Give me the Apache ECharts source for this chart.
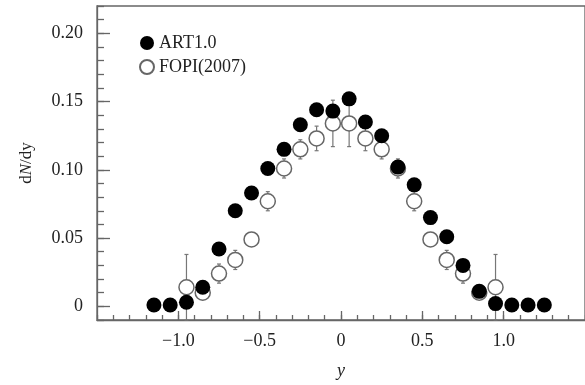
<!DOCTYPE html>
<html>
<head>
<meta charset="utf-8">
<script src="https://cdn.jsdelivr.net/npm/echarts@6/dist/echarts.min.js"></script>
<style>
  html, body { margin: 0; padding: 0; background: #fff; }
  #chart { width: 585px; height: 385px; }
</style>
</head>
<body>
<div id="chart"></div>
<script>
// ART1.0 transport model
var artX = [-1.15, -1.05, -0.95, -0.85, -0.75, -0.65, -0.55, -0.45, -0.35, -0.25, -0.15, -0.05,
  0.05, 0.15, 0.25, 0.35, 0.45, 0.55, 0.65, 0.75, 0.85, 0.95, 1.05, 1.15, 1.25]
var artY = [0.001, 0.001, 0.003, 0.014, 0.042, 0.070, 0.083, 0.101, 0.115, 0.133, 0.144, 0.143,
  0.152, 0.135, 0.125, 0.102, 0.089, 0.065, 0.051, 0.030, 0.011, 0.002, 0.001, 0.001, 0.001]

// FOPI(2007) data with errors
var fopiX = [-0.95, -0.85, -0.75, -0.65, -0.55, -0.45, -0.35, -0.25, -0.15, -0.05,
  0.05, 0.15, 0.25, 0.35, 0.45, 0.55, 0.65, 0.75, 0.85, 0.95]
var fopiY = [0.014, 0.010, 0.024, 0.034, 0.049, 0.077, 0.101, 0.115, 0.123, 0.134,
  0.134, 0.123, 0.115, 0.101, 0.077, 0.049, 0.034, 0.024, 0.010, 0.014]
var fopiErr = [0.024, 0.003, 0.007, 0.007, 0.003, 0.007, 0.007, 0.007, 0.009, 0.017,
  0.017, 0.009, 0.007, 0.007, 0.007, 0.003, 0.007, 0.007, 0.003, 0.024]

var xTicks = [-1.0, -0.5, 0, 0.5, 1.0]
var yTicks = [0, 0.05, 0.10, 0.15, 0.20]

var font = 'Liberation Serif'
var axisColor = '#666'

function fmtX(v) {
  var r = Math.round(v * 10) / 10
  if (r === 0) return '0'
  return (r < 0 ? '\u2212' : '') + Math.abs(r).toFixed(1)
}
function fmtY(v) {
  var r = Math.round(v * 100) / 100
  if (r === 0) return '0'
  return r.toFixed(2)
}

var myChart = echarts.init(document.getElementById('chart'))

var tickStyle = { color: axisColor, width: 1.3 }

var option = {
  animation: false,
  grid: {
    left: 97, top: 6, right: -4, bottom: 63,
    show: true, borderColor: axisColor, borderWidth: 1.3
  },
  legend: {
    orient: 'vertical',
    left: 134, top: 29,
    itemWidth: 14, itemHeight: 14,
    itemGap: 6,
    textStyle: { fontFamily: font, fontSize: 18, color: '#222' },
    data: ['ART1.0', 'FOPI(2007)']
  },
  xAxis: [
    {
      type: 'value', min: -1.5, max: 1.5, interval: 0.1,
      axisLine: { onZero: false, lineStyle: tickStyle },
      axisTick: { inside: true, length: 5, lineStyle: tickStyle },
      axisLabel: { show: false },
      splitLine: { show: false },
      name: 'y', nameLocation: 'middle', nameGap: 42,
      nameTextStyle: { fontFamily: font, fontSize: 18, fontStyle: 'italic', color: '#222' }
    },
    {
      type: 'value', min: -1.5, max: 1.5, position: 'bottom',
      axisLine: { show: false, onZero: false },
      axisTick: { inside: true, length: 9, customValues: xTicks, lineStyle: tickStyle },
      axisLabel: {
        customValues: xTicks, margin: 12, formatter: fmtX,
        fontFamily: font, fontSize: 18, color: '#222'
      },
      splitLine: { show: false }
    }
  ],
  yAxis: [
    {
      type: 'value', min: -0.01, max: 0.22, interval: 0.01,
      axisLine: { show: true, onZero: false, lineStyle: tickStyle },
      axisTick: { show: true, inside: true, length: 7, lineStyle: tickStyle },
      axisLabel: { show: false },
      splitLine: { show: false },
      name: 'd{i|N}/dy', nameLocation: 'middle', nameGap: 62,
      nameTextStyle: {
        fontFamily: font, fontSize: 17, color: '#222',
        rich: { i: { fontFamily: font, fontSize: 17, fontStyle: 'italic', color: '#222' } }
      }
    },
    {
      type: 'value', min: -0.01, max: 0.22, position: 'left',
      axisLine: { show: false, onZero: false },
      axisTick: { show: true, inside: true, length: 13, customValues: yTicks, lineStyle: tickStyle },
      axisLabel: {
        customValues: yTicks, margin: 14, formatter: fmtY,
        fontFamily: font, fontSize: 18, color: '#222'
      },
      splitLine: { show: false }
    }
  ],
  series: [
    {
      name: 'err',
      type: 'custom',
      z: 1,
      data: fopiX.map(function (x, i) { return [x, fopiY[i], fopiErr[i]] }),
      renderItem: function (params, api) {
        var x = api.value(0), y = api.value(1), e = api.value(2)
        var top = api.coord([x, y + e])
        var bot = api.coord([x, y - e])
        var st = { stroke: '#777', lineWidth: 1.2 }
        return {
          type: 'group',
          children: [
            { type: 'line', shape: { x1: top[0], y1: top[1], x2: bot[0], y2: bot[1] }, style: st },
            { type: 'line', shape: { x1: top[0] - 2, y1: top[1], x2: top[0] + 2, y2: top[1] }, style: st },
            { type: 'line', shape: { x1: bot[0] - 2, y1: bot[1], x2: bot[0] + 2, y2: bot[1] }, style: st }
          ]
        }
      }
    },
    {
      name: 'FOPI(2007)',
      type: 'scatter',
      z: 2,
      symbol: 'circle',
      symbolSize: 15,
      itemStyle: { color: '#fff', borderColor: '#666', borderWidth: 1.5, opacity: 1 },
      data: fopiX.map(function (x, i) { return [x, fopiY[i]] })
    },
    {
      name: 'ART1.0',
      type: 'scatter',
      z: 3,
      symbol: 'circle',
      symbolSize: 15,
      itemStyle: { color: '#000', opacity: 1 },
      data: artX.map(function (x, i) { return [x, artY[i]] })
    }
  ]
}

myChart.setOption(option)
</script>
</body>
</html>
